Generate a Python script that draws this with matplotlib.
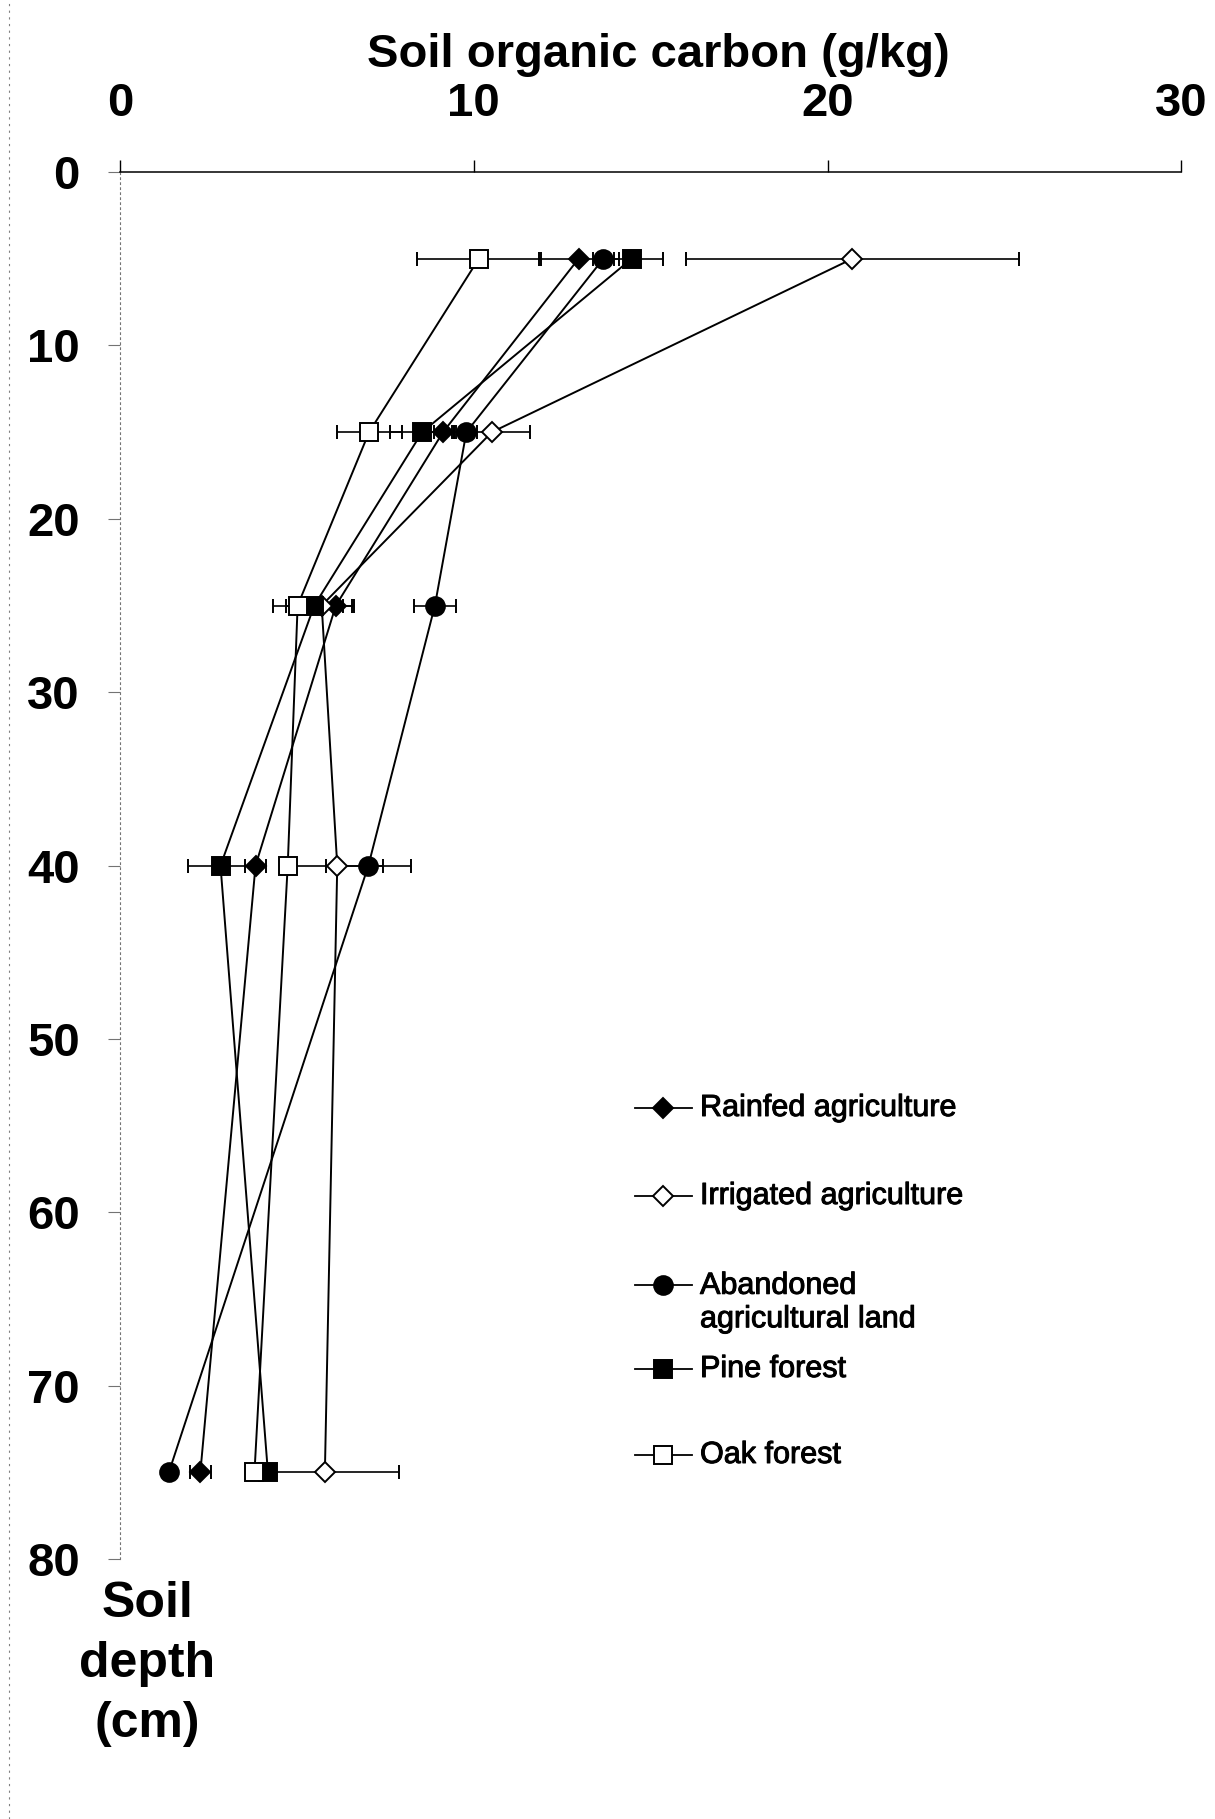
import matplotlib
matplotlib.use("Agg")
import matplotlib.pyplot as plt
from matplotlib.lines import Line2D
import matplotlib.patheffects as pe

plt.rcParams['font.family'] = ['Liberation Sans', 'DejaVu Sans']

# soil depth of each sampling layer (cm)
depth = [5, 15, 25, 40, 75]

# soil organic carbon (g/kg) and standard error per land use
rainfed = [12.96, 9.13, 6.1, 3.83, 2.27]
rainfed_err = [1.13, 0.25, 0.45, 0.3, 0.29]
irrigated = [20.7, 10.51, 5.7, 6.14, 5.79]
irrigated_err = [4.7, 1.07, 0.9, 1.3, 2.1]
abandoned = [13.66, 9.79, 8.9, 7.02, 1.38]
abandoned_err = [0.3, 0.3, 0.6, 1.2, 0.0]
pine = [14.46, 8.54, 5.49, 2.84, 4.18]
pine_err = [0.89, 0.9, 0.8, 0.93, 0.2]
oak = [10.14, 7.04, 5.02, 4.74, 3.8]
oak_err = [1.75, 0.92, 0.7, 0.2, 0.2]

labels = ["Rainfed agriculture", "Irrigated agriculture",
          "Abandoned\nagricultural land", "Pine forest", "Oak forest"]

xticks = [0, 10, 20, 30]
yticks = [0, 10, 20, 30, 40, 50, 60, 70, 80]

series = [
    (rainfed, rainfed_err, dict(marker="D", ms=10, mfc="black")),
    (irrigated, irrigated_err, dict(marker="D", ms=10, mfc="white")),
    (abandoned, abandoned_err, dict(marker="o", ms=13.5, mfc="black")),
    (pine, pine_err, dict(marker="s", ms=13.5, mfc="black")),
    (oak, oak_err, dict(marker="s", ms=13.5, mfc="white")),
]

fig = plt.figure(figsize=(12.15, 18.19), dpi=100)
ax = fig.add_axes([0.0988, 0.1429, 0.8735, 0.7625])

for vals, err, st in series:
    ax.errorbar(vals, depth, xerr=err, color="black", lw=1.4,
                elinewidth=1.2, capsize=5, capthick=1.2,
                mec="black", mew=1.4, **st)

ax.set_xlim(0, 30)
ax.set_ylim(80, 0)
ax.xaxis.tick_top()
ax.set_xticks(xticks)
ax.set_yticks(yticks)
ax.tick_params(axis="x", labelsize=34, width=1.0, length=9, pad=24)
ax.tick_params(axis="y", labelsize=34, width=0.8, length=9, pad=20,
               color="0.45")
for lab in ax.get_xticklabels() + ax.get_yticklabels():
    lab.set_fontweight("bold")

ax.spines["right"].set_visible(False)
ax.spines["bottom"].set_visible(False)
ax.spines["top"].set_linewidth(1.1)
ax.spines["left"].set_linestyle((0, (1.5, 3)))
ax.spines["left"].set_color("0.45")
ax.spines["left"].set_linewidth(0.8)

fig.text(0.5416, 0.9632, "Soil organic carbon (g/kg)", fontsize=34,
         fontweight="bold", ha="center", va="baseline")
fig.text(0.121, 0.0852, "Soil\ndepth\n(cm)", fontsize=36, fontweight="bold",
         ha="center", va="center", multialignment="center", linespacing=1.4)

# legend entries laid out by hand (figure pixels from the top-left)
W, H = 1215.0, 1819.0
rows = [1108, 1196, 1285, 1369, 1455]
heavy = [pe.withStroke(linewidth=0.7, foreground="black")]
for (vals, err, st), lab, ry in zip(series, labels, rows):
    yf = 1 - ry / H
    fig.add_artist(Line2D([635 / W, 692 / W], [yf, yf], color="black",
                          lw=1.3, transform=fig.transFigure))
    fig.add_artist(Line2D([663 / W], [yf], color="black", mec="black",
                          mew=1.4, transform=fig.transFigure, **st))
    if "\n" in lab:
        fig.text(700 / W, yf + 0.0078, lab, fontsize=22, ha="left", va="top",
                 linespacing=1.15, path_effects=heavy)
    else:
        fig.text(700 / W, yf, lab, fontsize=22, ha="left", va="center",
                 path_effects=heavy)

# faint page border on the left
fig.add_artist(Line2D([0.007, 0.007], [0.0, 1.0], color="0.5", lw=0.8,
                      ls=(0, (2, 4)), transform=fig.transFigure))

fig.savefig("out.png", dpi=100)
